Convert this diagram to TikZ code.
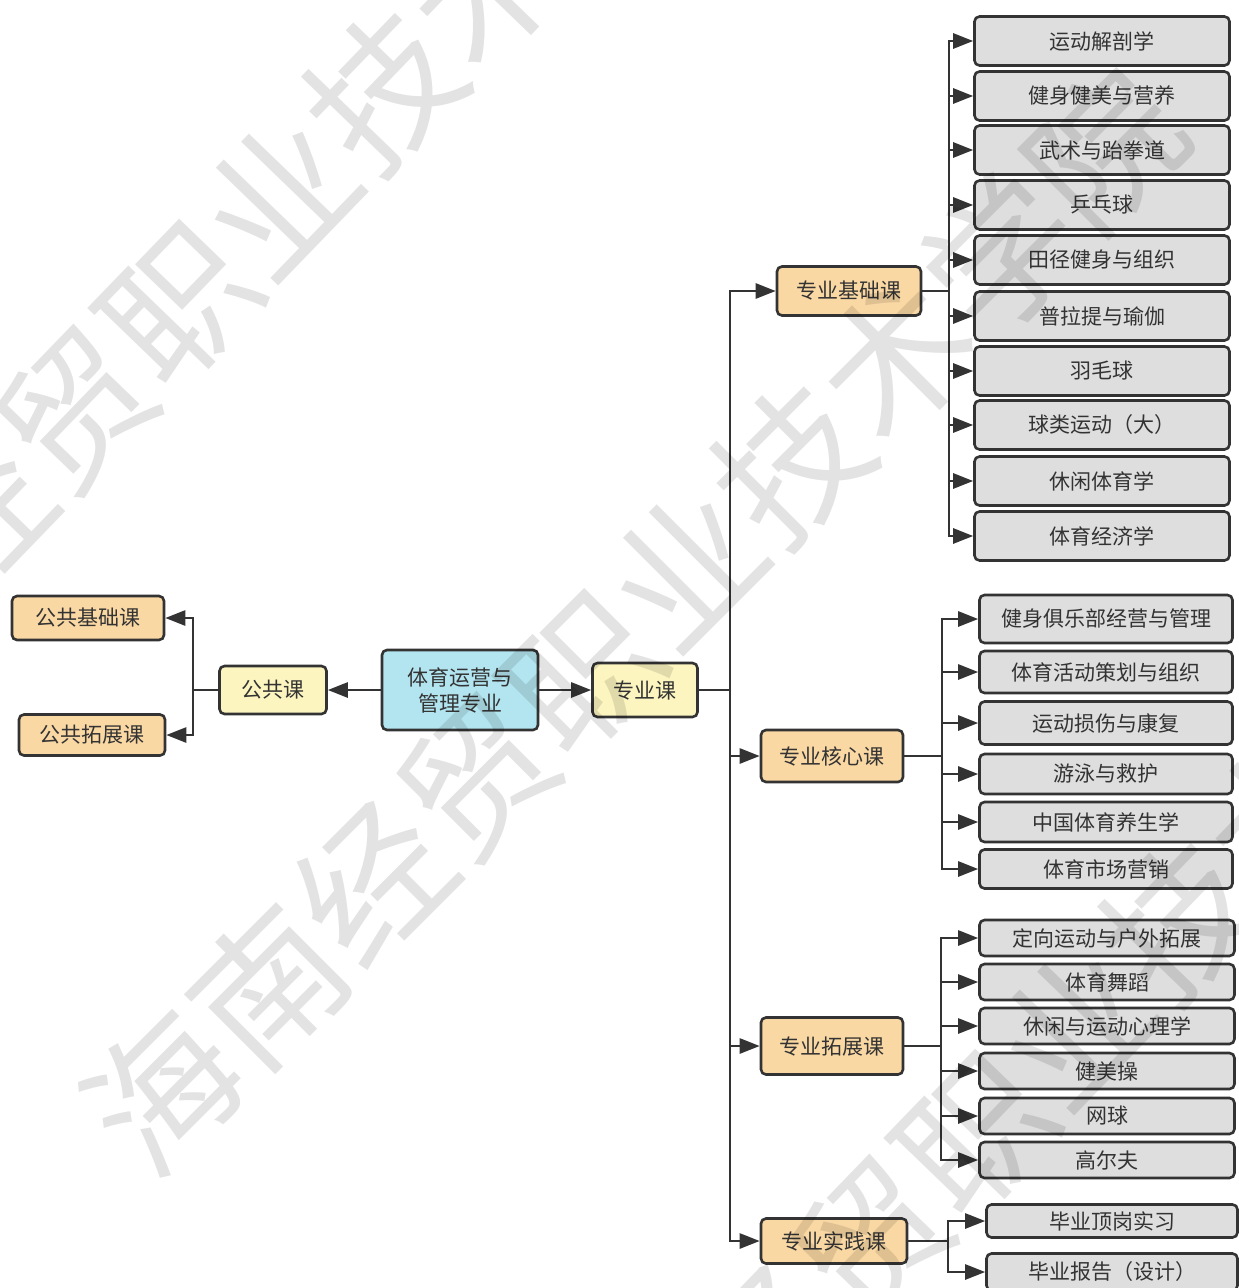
\documentclass[tikz,border=0pt]{standalone}
\usepackage{fontspec}
\setmainfont{Noto Sans CJK SC}
\usetikzlibrary{arrows.meta}
\definecolor{ink}{HTML}{333333}
\definecolor{leafgray}{HTML}{DEDEDE}
\definecolor{peach}{HTML}{FAD8A4}
\definecolor{lemon}{HTML}{FCF5C0}
\definecolor{skyb}{HTML}{B3E5F0}
\tikzset{
  box/.style={draw=ink, line width=2.6pt, rounded corners=5pt, text=ink,
    font=\fontsize{21}{26}\selectfont, inner sep=0pt, align=center},
  leaf/.style={box, fill=leafgray},
  cat/.style={box, fill=peach},
  mid/.style={box, fill=lemon},
  rootbox/.style={box, fill=skyb},
  conn/.style={draw=ink, line width=2.6pt},
  arr/.style={conn, -{Triangle[length=20pt,width=15pt]}},
  wm/.style={text=black, opacity=0.11,
    font=\fontsize{148}{148}\selectfont, inner sep=0pt}
}
\begin{document}
\begin{tikzpicture}[x=1pt, y=-1pt]
\useasboundingbox (0,0) rectangle (1239,1288);
\fill[white] (0,0) rectangle (1239,1288);

% main nodes
\node[rootbox, minimum width=156pt, minimum height=80pt] (root) at (460,690) {体育运营与\\管理专业};
\node[mid, minimum width=107pt, minimum height=48pt] (pub) at (273,690) {公共课};
\node[mid, minimum width=105pt, minimum height=54pt] (pro) at (645,690) {专业课};
\node[cat, minimum width=152pt, minimum height=44pt] (pub1) at (88,618) {公共基础课};
\node[cat, minimum width=146pt, minimum height=41pt] (pub2) at (92,735) {公共拓展课};

\node[cat, minimum width=144pt, minimum height=49pt] (c1) at (849,291) {专业基础课};
\node[cat, minimum width=142pt, minimum height=52pt] (c2) at (832,756) {专业核心课};
\node[cat, minimum width=142pt, minimum height=57pt] (c3) at (832,1046) {专业拓展课};
\node[cat, minimum width=146pt, minimum height=45pt] (c4) at (834,1241) {专业实践课};

% left part
\coordinate (lb) at (193,690);
\draw[arr] (root.west) -- (pub.east);
\draw[conn] (pub.west) -- (lb);
\draw[arr] (lb) |- (pub1.east);
\draw[arr] (lb) |- (pub2.east);

% trunk
\coordinate (tr) at (730,690);
\draw[arr] (root.east) -- (pro.west);
\draw[conn] (pro.east) -- (tr);
\draw[arr] (tr) |- (c1.west);
\draw[arr] (tr) |- (c2.west);
\draw[arr] (tr) |- (c3.west);
\draw[arr] (tr) |- (c4.west);

% branch points
\coordinate (b1) at (949,291);
\coordinate (b2) at (942,756);
\coordinate (b3) at (941,1046);
\coordinate (b4) at (948,1241);
\draw[conn] (c1.east) -- (b1);
\draw[conn] (c2.east) -- (b2);
\draw[conn] (c3.east) -- (b3);
\draw[conn] (c4.east) -- (b4);

% base leaves
\foreach \t/\y [count=\i] in {运动解剖学/41, 健身健美与营养/96, 武术与跆拳道/150,
  乒乓球/205, 田径健身与组织/260, 普拉提与瑜伽/316, 羽毛球/371,
  球类运动（大）/425, 休闲体育学/481, 体育经济学/536}{
  \node[leaf, minimum width=255pt, minimum height=49pt] (a\i) at (1102,\y) {\t};
  \draw[arr] (b1) |- (a\i.west);
}
% core leaves
\foreach \t/\y/\h [count=\i] in {健身俱乐部经营与管理/619/48, 体育活动策划与组织/672/42,
  运动损伤与康复/723/43, 游泳与救护/774/40, 中国体育养生学/822/40, 体育市场营销/869/39}{
  \node[leaf, minimum width=253pt, minimum height=\h pt] (k\i) at (1106,\y) {\t};
  \draw[arr] (b2) |- (k\i.west);
}
% extension leaves
\foreach \t/\y [count=\i] in {定向运动与户外拓展/938, 体育舞蹈/982, 休闲与运动心理学/1026,
  健美操/1071, 网球/1116, 高尔夫/1160}{
  \node[leaf, minimum width=255pt, minimum height=36pt] (e\i) at (1107,\y) {\t};
  \draw[arr] (b3) |- (e\i.west);
}
% practice leaves
\node[leaf, minimum width=251pt, minimum height=33pt] (p1) at (1112,1221) {毕业顶岗实习};
\node[leaf, minimum width=251pt, minimum height=37pt] (p2) at (1112,1272) {毕业报告（设计）};
\draw[arr] (b4) |- (p1.west);
\draw[arr] (b4) |- (p2.west);

% watermark
\node[wm, rotate=46] (w1) at (229,250) {海南经贸职业技术学院};
\node[wm, rotate=45] (w2) at (634,620) {海南经贸职业技术学院};
\node[wm, rotate=46] (w3) at (1025,1080) {海南经贸职业技术学院};
\end{tikzpicture}
\end{document}
